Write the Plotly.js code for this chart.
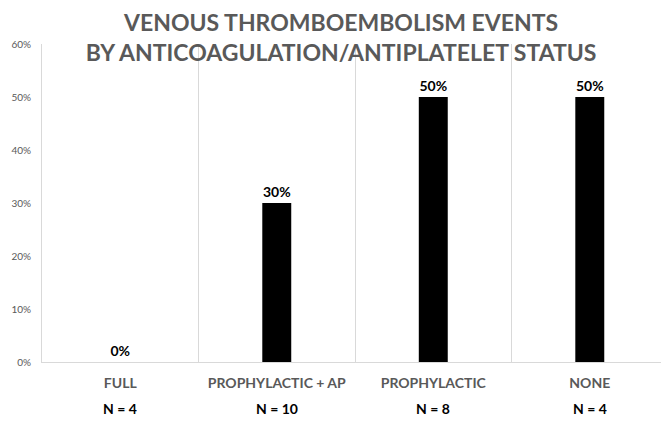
<!DOCTYPE html>
<html><head><meta charset="utf-8">
<script src="https://cdn.plot.ly/plotly-3.0.1.min.js"></script>
<style>body{margin:0}</style></head>
<body><div id="chart" style="width:661px;height:422px"></div>
<script>
const categories = ["FULL", "PROPHYLACTIC + AP", "PROPHYLACTIC", "NONE"];
const values = [0, 0.30, 0.50, 0.50];
const nLabels = ["N = 4", "N = 10", "N = 8", "N = 4"];
const valueLabels = ["0%", "30%", "50%", "50%"];

const font = "'Lato', sans-serif";
const trace = {
  type: "bar", x: categories, y: values, text: valueLabels,
  textposition: "outside", cliponaxis: false,
  textfont: {family: font, size: 14, color: "#000", weight: "bold"},
  marker: {color: "#000"}, width: 0.185, hoverinfo: "none"
};
const annotations = categories.map((c, i) => ({
  x: c, y: 0, xref: "x", yref: "y", yshift: -46, text: nLabels[i],
  showarrow: false, font: {family: font, size: 14, color: "#000", weight: "bold"}
}));
const layout = {
  width: 661, height: 422,
  margin: {l: 42, r: 0, t: 44, b: 60},
  paper_bgcolor: "#fff", plot_bgcolor: "#fff",
  showlegend: false,
  title: {text: "VENOUS THROMBOEMBOLISM EVENTS<br>BY ANTICOAGULATION/ANTIPLATELET STATUS",
    x: 0.516, xanchor: "center", yref: "container", y: 0.927, yanchor: "top",
    font: {family: font, size: 23, color: "#595959", weight: "bold"}},
  xaxis: {type: "category", range: [-0.5, 3.455], tickson: "boundaries",
    showgrid: true, gridcolor: "#d9d9d9", gridwidth: 1,
    showline: true, linecolor: "#d9d9d9", ticks: "", ticklabelstandoff: 8,
    tickfont: {family: font, size: 14, color: "#595959", weight: "bold"}},
  yaxis: {range: [0, 0.6], tickvals: [0, 0.1, 0.2, 0.3, 0.4, 0.5, 0.6], tickformat: ".0%",
    showgrid: false, zeroline: false, showline: true, linecolor: "#d9d9d9",
    ticks: "", ticklabelstandoff: 8,
    tickfont: {family: font, size: 10, color: "#595959"}},
  annotations: annotations
};
Plotly.newPlot("chart", [trace], layout, {staticPlot: true});
</script></body></html>
